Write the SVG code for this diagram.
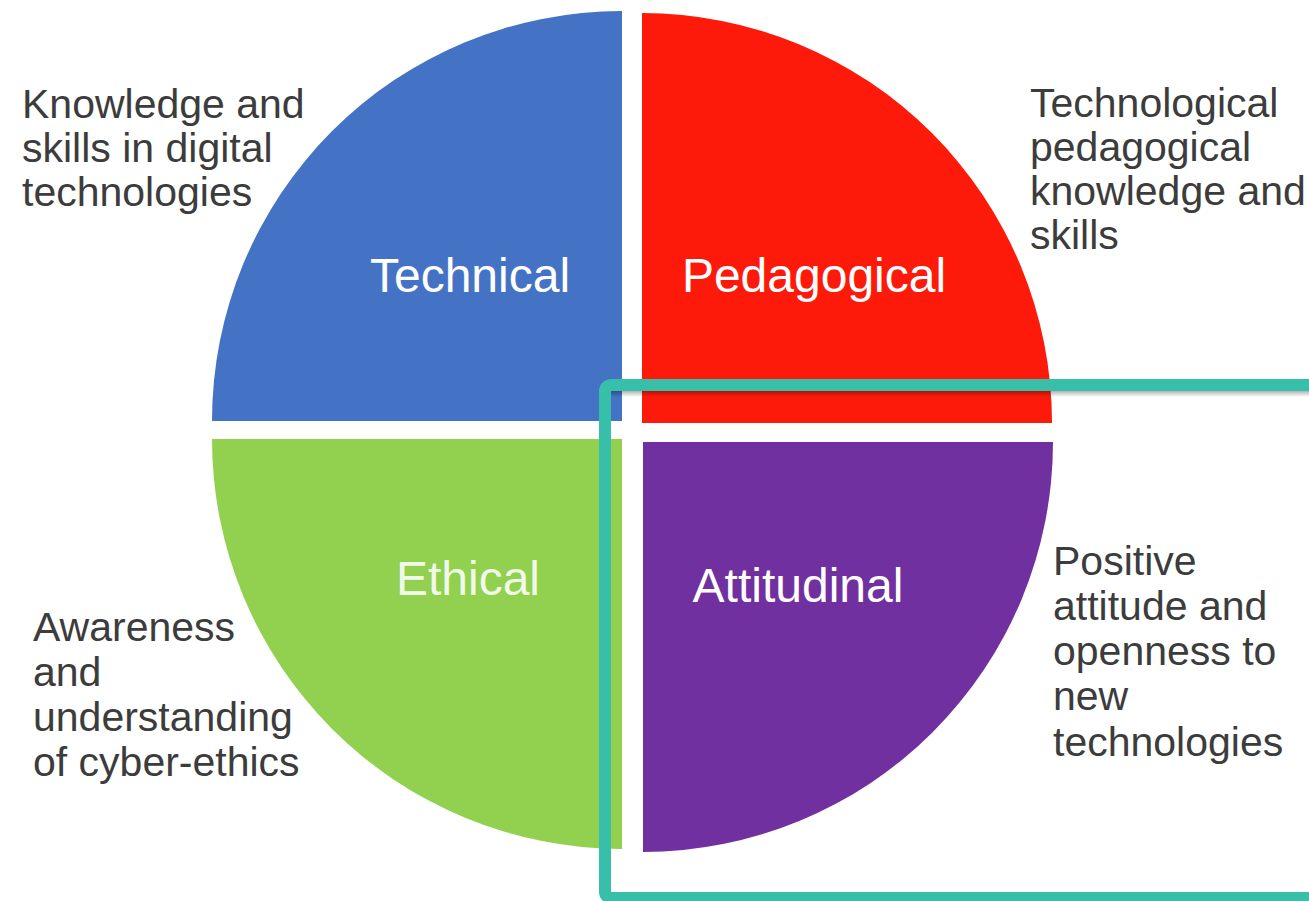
<svg xmlns="http://www.w3.org/2000/svg" width="1309" height="901" viewBox="0 0 1309 901">
  <style>
    .lbl { font-family: "Liberation Sans", Arial, sans-serif; font-size: 48px; fill: #ffffff; }
    .desc { font-family: "Liberation Sans", Arial, sans-serif; font-size: 41px; fill: #3c3c3c; }
  </style>
  <defs>
    <linearGradient id="shadow" x1="0" y1="0" x2="0" y2="1">
      <stop offset="0" stop-color="#000" stop-opacity="0.3"/>
      <stop offset="1" stop-color="#000" stop-opacity="0"/>
    </linearGradient>
  </defs>
  <rect width="1309" height="901" fill="#ffffff"/>
  <g id="technical">
    <path d="M622,421 L212,421 A410,410 0 0 1 622,11 Z" fill="#4472c4"/>
    <text class="lbl" x="470" y="292" text-anchor="middle">Technical</text>
  </g>
  <g id="pedagogical">
    <path d="M642,423 L642,13 A410,410 0 0 1 1052,423 Z" fill="#fe1a0a"/>
    <text class="lbl" x="814" y="292" text-anchor="middle">Pedagogical</text>
  </g>
  <g id="ethical">
    <path d="M622,439 L622,849 A410,410 0 0 1 212,439 Z" fill="#92d050"/>
    <text class="lbl" x="468" y="595" text-anchor="middle" fill-opacity="0.9">Ethical</text>
  </g>
  <g id="attitudinal">
    <path d="M643,442 L1053,442 A410,410 0 0 1 643,852 Z" fill="#7030a0"/>
    <text class="lbl" x="798" y="602" text-anchor="middle">Attitudinal</text>
  </g>
  <g id="desc-technical">
    <text class="desc" x="22" y="118">Knowledge and</text>
    <text class="desc" x="22" y="162">skills in digital</text>
    <text class="desc" x="22" y="206">technologies</text>
  </g>
  <g id="desc-pedagogical">
    <text class="desc" x="1030" y="117">Technological</text>
    <text class="desc" x="1030" y="161">pedagogical</text>
    <text class="desc" x="1030" y="205">knowledge and</text>
    <text class="desc" x="1030" y="249">skills</text>
  </g>
  <g id="desc-ethical">
    <text class="desc" x="33" y="641">Awareness</text>
    <text class="desc" x="33" y="686">and</text>
    <text class="desc" x="33" y="731">understanding</text>
    <text class="desc" x="33" y="776">of cyber-ethics</text>
  </g>
  <g id="desc-attitudinal">
    <text class="desc" x="1053" y="575">Positive</text>
    <text class="desc" x="1053" y="620">attitude and</text>
    <text class="desc" x="1053" y="665">openness to</text>
    <text class="desc" x="1053" y="710">new</text>
    <text class="desc" x="1053" y="756">technologies</text>
  </g>
  <g id="highlight">
    <rect x="611" y="391" width="700" height="6" fill="url(#shadow)"/>
    <rect x="605" y="385" width="720" height="513" rx="6" fill="none" stroke="#38bfaa" stroke-width="12"/>
  </g>
  <g id="connectors"/>
</svg>
